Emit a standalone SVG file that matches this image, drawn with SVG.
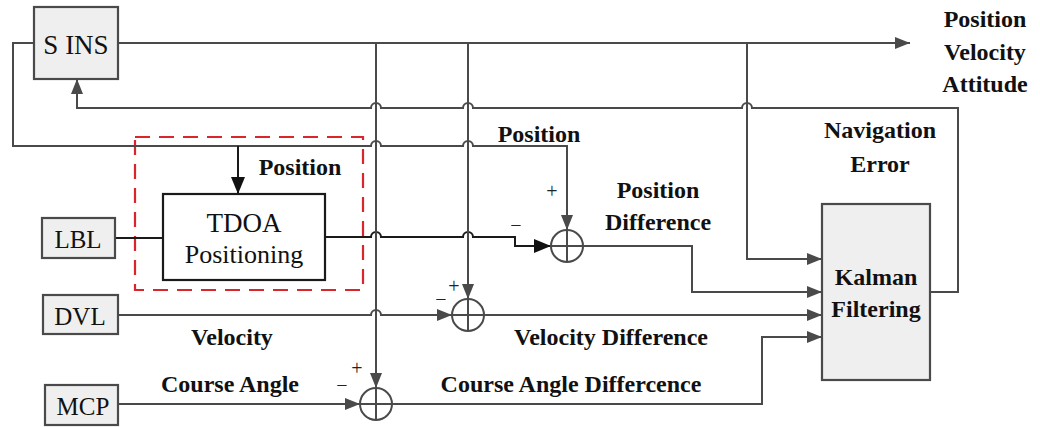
<svg xmlns="http://www.w3.org/2000/svg" width="1040" height="427" viewBox="0 0 1040 427">
<style>
.box{fill:#efefef;stroke:#4a4a4a;stroke-width:2.2}
.wbox{fill:#fff;stroke:#1a1a1a;stroke-width:2.2}
.ln{fill:none;stroke:#4a4a4a;stroke-width:2}
.bk{fill:none;stroke:#1a1a1a;stroke-width:2}
.sum{fill:#fff;stroke:#4a4a4a;stroke-width:2}
text{font-family:'Liberation Serif',Tinos,'Times New Roman',Times,'Noto Serif','DejaVu Serif',serif}
.t{font-size:24px;font-weight:bold;fill:#111;text-anchor:middle}
.r{font-size:25px;fill:#111;text-anchor:middle}
.s{font-size:20px;fill:#222;text-anchor:middle}
</style>
<defs>
<marker id="ag" markerUnits="userSpaceOnUse" markerWidth="16" markerHeight="12" refX="15" refY="6" orient="auto"><path d="M0,0 L15,6 L0,12 Z" fill="#4a4a4a"/></marker>
<marker id="ab" markerUnits="userSpaceOnUse" markerWidth="18" markerHeight="14" refX="17" refY="7" orient="auto"><path d="M0,0 L17,7 L0,14 Z" fill="#111"/></marker>
</defs>
<rect x="135" y="137" width="228" height="153" fill="none" stroke="#d8262c" stroke-width="2.2" stroke-dasharray="15 9"/>
<g id="connectors">
<path class="ln" d="M118 43 H910" marker-end="url(#ag)"/>
<path class="ln" d="M34 43 H13 V146 H371 A5 5 0 0 1 381 146 H463 A5 5 0 0 1 473 146 H567 V230" marker-end="url(#ag)"/>
<path class="bk" d="M238 146 V194" marker-end="url(#ab)"/>
<path class="bk" d="M115 238 H163"/>
<path class="bk" d="M325 237 H371 A5 5 0 0 1 381 237 H463 A5 5 0 0 1 473 237 H515 V246 H551" marker-end="url(#ab)"/>
<path class="ln" d="M583 246 H692 V292 H822" marker-end="url(#ag)"/>
<path class="ln" d="M747 43 V259 H822" marker-end="url(#ag)"/>
<path class="ln" d="M118 315 H371 A5 5 0 0 1 381 315 H452" marker-end="url(#ag)"/>
<path class="ln" d="M468 43 V299" marker-end="url(#ag)"/>
<path class="ln" d="M484 315 H822" marker-end="url(#ag)"/>
<path class="ln" d="M118 404 H360" marker-end="url(#ag)"/>
<path class="ln" d="M376 43 V388" marker-end="url(#ag)"/>
<path class="ln" d="M392 404 H762 V337 H822" marker-end="url(#ag)"/>
<path class="ln" d="M930 292 H958 V108 H752 A5 5 0 0 0 742 108 H473 A5 5 0 0 0 463 108 H381 A5 5 0 0 0 371 108 H77 V79" marker-end="url(#ag)"/>
</g>
<g id="sins"><rect class="box" x="34" y="7" width="84" height="72"/><text class="r" x="76" y="54" style="font-size:27px">S INS</text></g>
<g id="lbl"><rect class="box" x="42" y="218" width="73" height="40"/><text class="r" x="78" y="248">LBL</text></g>
<g id="dvl"><rect class="box" x="43" y="295" width="75" height="39"/><text class="r" x="80" y="325">DVL</text></g>
<g id="mcp"><rect class="box" x="45" y="385" width="73" height="40"/><text class="r" x="83" y="415">MCP</text></g>
<g id="tdoa"><rect class="wbox" x="163" y="194" width="162" height="86"/><text class="r" x="244" y="232" style="font-size:27px">TDOA</text><text class="r" x="244" y="263" style="font-size:26px">Positioning</text></g>
<g id="kalman"><rect class="box" x="822" y="204" width="108" height="176"/><text class="t" x="876" y="285">Kalman</text><text class="t" x="876" y="317">Filtering</text></g>
<g id="sum-pos"><circle class="sum" cx="567" cy="246" r="16"/><path class="ln" d="M551 246 H583 M567 230 V262"/></g>
<g id="sum-vel"><circle class="sum" cx="468" cy="315" r="16"/><path class="ln" d="M452 315 H484 M468 299 V331"/></g>
<g id="sum-course"><circle class="sum" cx="376" cy="404" r="16"/><path class="ln" d="M360 404 H392 M376 388 V420"/></g>
<g id="labels">
<text class="t" x="985" y="27">Position</text>
<text class="t" x="985" y="60">Velocity</text>
<text class="t" x="985" y="92">Attitude</text>
<text class="t" x="880" y="138">Navigation</text>
<text class="t" x="880" y="172">Error</text>
<text class="t" x="539" y="142">Position</text>
<text class="t" x="300" y="175">Position</text>
<text class="t" x="658" y="198">Position</text>
<text class="t" x="658" y="230">Difference</text>
<text class="t" x="232" y="345">Velocity</text>
<text class="t" x="611" y="345">Velocity Difference</text>
<text class="t" x="230" y="392">Course Angle</text>
<text class="t" x="571" y="392">Course Angle Differcence</text>
<text class="s" x="552" y="198">+</text>
<text class="s" x="516" y="232">−</text>
<text class="s" x="454" y="293">+</text>
<text class="s" x="441" y="306">−</text>
<text class="s" x="357" y="375">+</text>
<text class="s" x="342" y="392">−</text>
</g>
</svg>
